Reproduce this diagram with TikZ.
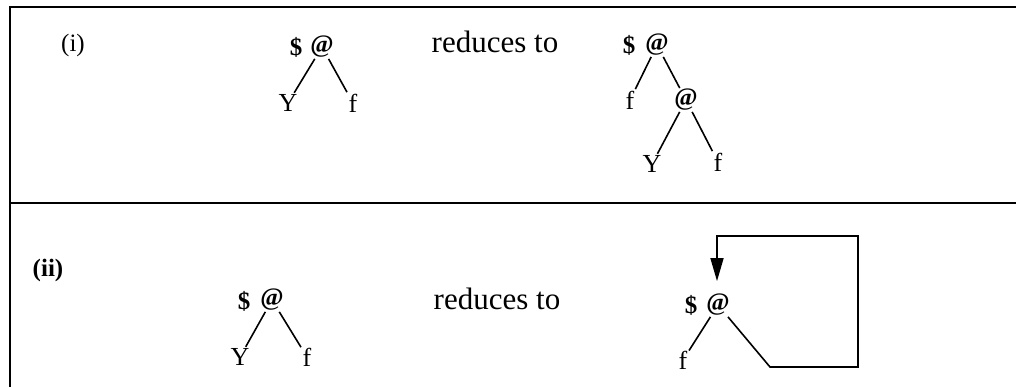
\documentclass[tikz,border=0pt]{standalone}
\usepackage{fontspec}
\setmainfont{Liberation Serif}
\usetikzlibrary{arrows.meta}
\begin{document}
\begin{tikzpicture}[x=1pt,y=-1pt,
  lbl/.style={font=\fontsize{25}{28}\selectfont, inner sep=0pt},
  txt/.style={font=\fontsize{31}{34}\selectfont, inner sep=0pt},
  sym/.style={font=\fontsize{25}{28}\selectfont\bfseries, inner sep=1pt},
  leaf/.style={font=\fontsize{26}{28}\selectfont, inner sep=1.5pt},
  edge/.style={line width=1.6pt},
  frame/.style={line width=2.4pt}]
\useasboundingbox (0,0) rectangle (1016,387);
% frame
\draw[frame] (10,387) -- (10,7) -- (1016,7);
\draw[frame] (10,203) -- (1016,203);
% labels
\node[lbl] (li) at (73,45) {(i)};
\node[lbl,font=\fontsize{25}{28}\selectfont\bfseries] (lii) at (48,270) {(ii)};
\node[txt] (r1) at (495,42) {reduces to};
\node[txt] (r2) at (497,299) {reduces to};
% tree 1
\node[sym] (d1) at (296,47) {\$};
\node[sym] (a1) at (322,47) {@};
\node[leaf] (y1) at (288,103) {Y};
\node[leaf] (f1) at (353,103) {f};
\draw[edge] (a1) -- (y1);
\draw[edge] (a1) -- (f1);
% tree 2
\node[sym] (d2) at (629,45) {\$};
\node[sym] (a2) at (657,45) {@};
\node[leaf] (f2) at (630,100) {f};
\node[sym] (a3) at (686,100) {@};
\node[leaf] (y2) at (652,164) {Y};
\node[leaf] (f3) at (718,162) {f};
\draw[edge] (a2) -- (f2);
\draw[edge] (a2) -- (a3);
\draw[edge] (a3) -- (y2);
\draw[edge] (a3) -- (f3);
% tree 3
\node[sym] (d3) at (244,301) {\$};
\node[sym] (a4) at (272,300) {@};
\node[leaf] (y3) at (240,357) {Y};
\node[leaf] (f4) at (307,357) {f};
\draw[edge] (a4) -- (y3);
\draw[edge] (a4) -- (f4);
% tree 4
\node[sym] (d4) at (691,305) {\$};
\node[sym] (a5) at (718,305) {@};
\node[leaf] (f5) at (683,360) {f};
\draw[edge] (a5) -- (f5);
\coordinate (c1) at (770,367);
\coordinate (c2) at (858,367);
\coordinate (c3) at (858,236);
\coordinate (c4) at (717,236);
\draw[edge] (a5) -- (c1) -- (c2) -- (c3) -- (c4)
  -- ([yshift=12pt]c4 |- a5.north) [-{Triangle[length=23pt,width=13pt]}];
\end{tikzpicture}
\end{document}
